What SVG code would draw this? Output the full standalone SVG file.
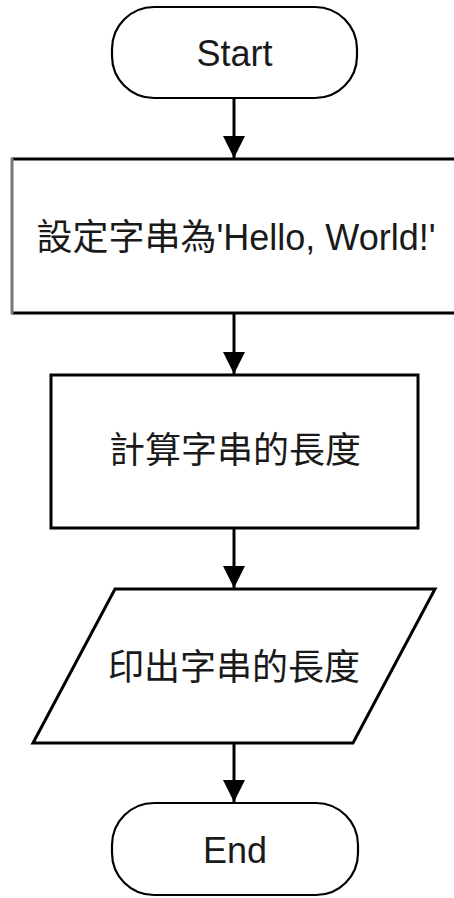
<svg xmlns="http://www.w3.org/2000/svg" width="454" height="898" viewBox="0 0 454 898">
<style>
.t{font-family:"Liberation Sans","Noto Sans CJK TC",Arial,sans-serif;font-size:36px;fill:#1a1a1a;text-anchor:middle;dominant-baseline:central}
.term{fill:#fff;stroke:#000;stroke-width:2.2}
.box{fill:#fff;stroke:#000;stroke-width:3}
.edge{stroke:#000;stroke-width:3;fill:none}
</style>
<defs>
<marker id="ah" markerUnits="userSpaceOnUse" markerWidth="24" markerHeight="26" viewBox="0 0 24 26" refX="12" refY="24" orient="auto-start-reverse">
<path d="M1,2 L23,2 L12,24 Z" fill="#000" transform="rotate(-90 12 12)"/>
</marker>
<marker id="arr" markerUnits="userSpaceOnUse" markerWidth="24" markerHeight="24" viewBox="0 0 24 24" refX="23" refY="12" orient="auto">
<path d="M1,1 L23,12 L1,23 Z" fill="#000"/>
</marker>
</defs>
<g id="start">
<rect class="term" x="112" y="7" width="245" height="91" rx="42" ry="42"/>
<text class="t" x="234.5" y="53">Start</text>
</g>
<g id="setString">
<rect class="box" x="12" y="159" width="450" height="154" style="stroke:none"/>
<path d="M12,159 H456 M12,313 H456" stroke="#000" stroke-width="3" fill="none"/>
<path d="M12,157.5 V314.5" stroke="#777" stroke-width="3" fill="none"/>
<text class="t" x="236" y="237">設定字串為'Hello, World!'</text>
</g>
<g id="calcLength">
<rect class="box" x="51" y="375" width="367" height="153"/>
<text class="t" x="235" y="450">計算字串的長度</text>
</g>
<g id="printLength">
<polygon class="box" points="115,589 435,589 353,743 33,743" style="stroke-width:3"/>
<text class="t" x="234" y="667">印出字串的長度</text>
</g>
<g id="end">
<rect class="term" x="112" y="803" width="246" height="92" rx="42" ry="42"/>
<text class="t" x="235" y="850">End</text>
</g>
<g id="connectors">
<line class="edge" x1="234" y1="98" x2="234" y2="158" marker-end="url(#arr)"/>
<line class="edge" x1="234" y1="313" x2="234" y2="374" marker-end="url(#arr)"/>
<line class="edge" x1="234" y1="528" x2="234" y2="588" marker-end="url(#arr)"/>
<line class="edge" x1="234" y1="743" x2="234" y2="802" marker-end="url(#arr)"/>
</g>
</svg>
